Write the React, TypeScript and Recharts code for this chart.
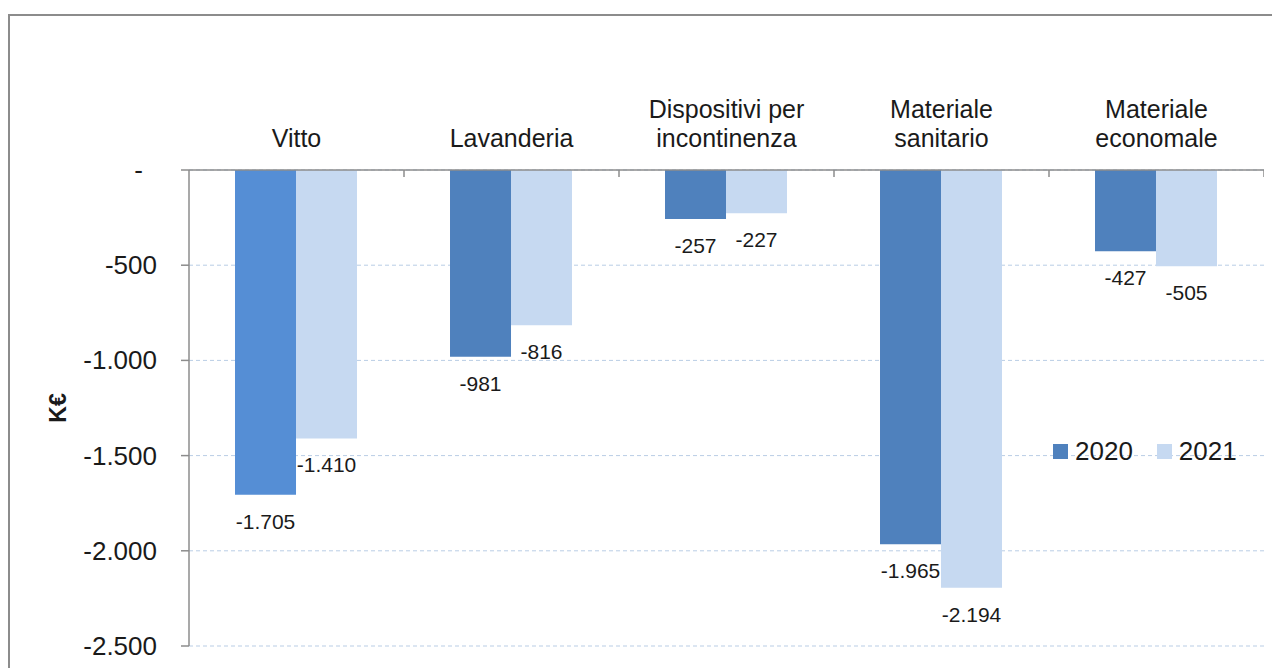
import React from 'react';
import { BarChart, Bar, XAxis, YAxis, CartesianGrid, Cell, LabelList, Legend } from 'recharts';

const categories = ['Vitto', 'Lavanderia', 'Dispositivi per\nincontinenza', 'Materiale\nsanitario', 'Materiale\neconomale'];
const values2020 = [-1705, -981, -257, -1965, -427];
const values2021 = [-1410, -816, -227, -2194, -505];
const yTicks = [0, -500, -1000, -1500, -2000, -2500];
const seriesNames = ['2020', '2021'];
const seriesColors = ['#4F81BD', '#C6D9F1'];
const highlightColor = '#558ED5';

const data = categories.map((c, i) => ({ name: c, s2020: values2020[i], s2021: values2021[i] }));

const FONT = '"Liberation Sans", Arial, sans-serif';
const AXIS = '#8c8c8c';
const TEXT = '#1a1a1a';

const CHART_W = 1256;
const CHART_H = 660;
const YAXIS_W = 181;
const XAXIS_H = 162;
const BAND = (CHART_W - YAXIS_W) / categories.length;

function fmt(v: number): string {
  if (v === 0) return '-';
  const neg = v < 0;
  const s = Math.abs(Math.round(v)).toString().replace(/\B(?=(\d{3})+(?!\d))/g, '.');
  return (neg ? '-' : '') + s;
}

function CatTick(props: any) {
  const { x, y, payload } = props;
  const lines = String(payload.value).split('\n');
  const lastBaseline = y - 23;
  return (
    <g>
      <text textAnchor="middle" fontFamily={FONT} fontSize={25} fill={TEXT}>
        {lines.map((l: string, i: number) => (
          <tspan key={i} x={x} y={lastBaseline - (lines.length - 1 - i) * 29.5}>{l}</tspan>
        ))}
      </text>
      <line x1={x + BAND / 2} x2={x + BAND / 2} y1={y} y2={y + 7} stroke={AXIS} strokeWidth={1.5} />
    </g>
  );
}

function ValTick(props: any) {
  const { x, y, payload } = props;
  const v = payload.value;
  return (
    <text x={v === 0 ? x - 14 : x} y={y} dy={9} textAnchor="end" fontFamily={FONT} fontSize={26} fill={TEXT}>
      {fmt(v)}
    </text>
  );
}

function BarLabel(props: any) {
  const { x, y, width, height, value } = props;
  const bottom = Math.max(y, y + height);
  return (
    <text x={x + width / 2} y={bottom + 34} textAnchor="middle" fontFamily={FONT} fontSize={21} fill={TEXT}>
      {fmt(value)}
    </text>
  );
}

function YLabel(props: any) {
  const vb = props.viewBox || {};
  const cy = (vb.y || 0) + (vb.height || 0) / 2;
  const cx = 50;
  return (
    <text x={cx} y={cy} transform={`rotate(-90, ${cx}, ${cy})`} textAnchor="middle" dominantBaseline="central"
      fontFamily={FONT} fontSize={23} fontWeight="bold" fill={TEXT}>
      K€
    </text>
  );
}

function LegendContent() {
  return (
    <div style={{ display: 'flex', alignItems: 'center', fontFamily: FONT, fontSize: 26, color: TEXT, whiteSpace: 'nowrap' }}>
      {seriesNames.map((n, i) => (
        <div key={n} style={{ display: 'flex', alignItems: 'center', marginRight: i === 0 ? 24 : 0 }}>
          <span style={{ display: 'inline-block', width: 15, height: 15, background: seriesColors[i], marginRight: 7 }} />
          <span>{n}</span>
        </div>
      ))}
    </div>
  );
}

export default function App() {
  return (
    <div style={{ position: 'relative', width: 1272, height: 660 }}>
      <div style={{ position: 'absolute', left: 3, top: -8, fontSize: 7, lineHeight: '7px', fontFamily: FONT }}>.</div>
      <div style={{ position: 'absolute', left: 0, top: 6, width: 1267, height: 700, border: `2px solid ${AXIS}`, boxSizing: 'border-box' }} />
      <div style={{ position: 'absolute', left: 0, top: 0 }}>
        <BarChart width={CHART_W} height={CHART_H} data={data}
          margin={{ top: 0, right: 0, bottom: 22, left: 0 }}
          barCategoryGap="21.4%" barGap={0}>
          <CartesianGrid vertical={false} stroke="#B9CDE5" strokeDasharray="4 3" />
          <XAxis dataKey="name" orientation="top" height={XAXIS_H} interval={0}
            tickLine={false} tickSize={0} tickMargin={0}
            axisLine={{ stroke: AXIS, strokeWidth: 1.5 }} tick={<CatTick />} />
          <YAxis width={YAXIS_W} domain={[-2500, 0]} ticks={yTicks} interval={0}
            tickSize={8} tickMargin={24} tickLine={{ stroke: AXIS, strokeWidth: 1.5 }}
            axisLine={{ stroke: AXIS, strokeWidth: 1.5 }} tick={<ValTick />}
            label={<YLabel />} />
          <Legend layout="horizontal" verticalAlign="middle" align="center"
            wrapperStyle={{ left: 1045, top: 428, width: 'auto', height: 'auto' }}
            content={<LegendContent />} />
          <Bar dataKey="s2020" name={seriesNames[0]} fill={seriesColors[0]} isAnimationActive={false}>
            {data.map((d, i) => (
              <Cell key={i} fill={i === 0 ? highlightColor : seriesColors[0]} />
            ))}
            <LabelList dataKey="s2020" content={<BarLabel />} />
          </Bar>
          <Bar dataKey="s2021" name={seriesNames[1]} fill={seriesColors[1]} isAnimationActive={false}>
            <LabelList dataKey="s2021" content={<BarLabel />} />
          </Bar>
        </BarChart>
      </div>
    </div>
  );
}
